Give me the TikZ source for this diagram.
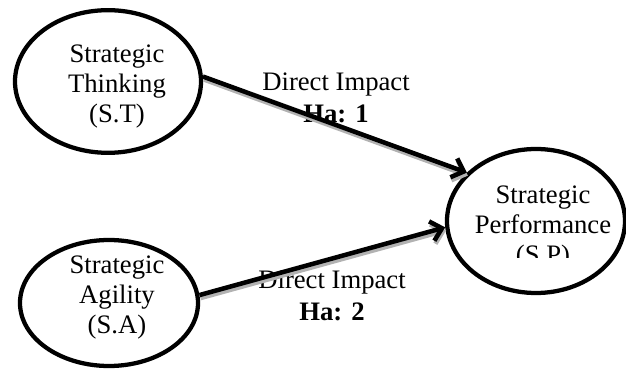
\documentclass[tikz,border=0pt]{standalone}
\usepackage{fontspec}
\setmainfont{Liberation Serif}
\usepackage{tikz}
\usetikzlibrary{arrows.meta,positioning,shapes}

\tikzset{
  construct/.style={ellipse, draw, line width=3.2pt, inner sep=0pt},
  constructtext/.style={align=center, inner sep=0pt, font=\fontsize{20}{22.5}\selectfont},
  impacttext/.style={align=center, inner sep=0pt, font=\fontsize{20}{24}\selectfont},
  impact/.style={line width=3.4pt, -{Straight Barb[length=8pt,width=15pt]}},
  impactshadow/.style={line width=3.4pt, draw=gray!60, -{Straight Barb[length=8pt,width=15pt]}},
}

\begin{document}
\begin{tikzpicture}[x=0.75pt,y=-0.75pt]
\useasboundingbox (0,0) rectangle (626,370);

% the three constructs
\node[construct, minimum width=139.5pt, minimum height=107pt] (st) at (108,81.5) {};
\node[construct, minimum width=133.5pt, minimum height=94.5pt] (sa) at (109,303) {};
\node[construct, minimum width=133.5pt, minimum height=108pt] (sp) at (536,221) {};

\node[constructtext] (st-txt) at ([shift={(9,5)}]st.center) {Strategic\\Thinking\\(S.T)};
\node[constructtext] (sa-txt) at ([shift={(8,-5)}]sa.center) {Strategic\\Agility\\(S.A)};
\begin{scope}
\clip (440,140) rectangle (626,258);
\node[constructtext] (sp-txt) at ([shift={(7,7)}]sp.center) {Strategic\\Performance\\(S.P)};
\end{scope}

% hypotheses
\node[impacttext] (imp1) at (336,98) {Direct Impact\\\textbf{Ha: 1}};
\node[impacttext] (imp2) at (332,296) {Direct Impact\\\textbf{Ha: 2}};

% shadows first, then the arrows
\draw[impactshadow] ([shift={(1,3)}]st.3) -- ([shift={(1,3)}]sp.145);
\draw[impactshadow] ([shift={(1,3)}]sa.5) -- ([shift={(1,3)}]sp.184);
\draw[impact] (st.3) -- (sp.145);
\draw[impact] (sa.5) -- (sp.184);
\end{tikzpicture}
\end{document}
